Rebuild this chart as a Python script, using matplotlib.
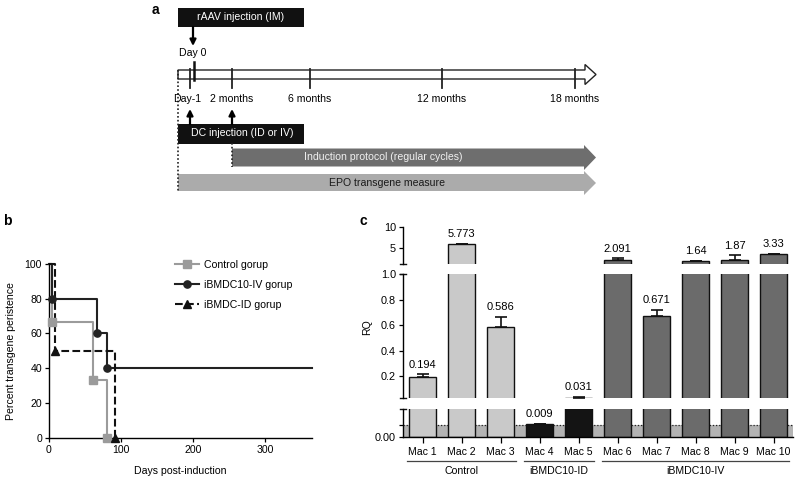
import matplotlib
matplotlib.use("Agg")
import matplotlib.pyplot as plt
from matplotlib.patches import Rectangle, Polygon
from matplotlib.lines import Line2D
import matplotlib.transforms as mtransforms
import numpy as np

plt.rcParams['font.family'] = ['Liberation Sans', 'DejaVu Sans']
plt.rcParams['font.size'] = 7.5

# ---------------- data ----------------
# panel a (schematic texts)
raav_text = "rAAV injection (IM)"
dc_text = "DC injection (ID or IV)"
induction_text = "Induction protocol (regular cycles)"
epo_text = "EPO transgene measure"
day0_label = "Day 0"
timeline_labels = ["Day-1", "2 months", "6 months", "12 months", "18 months"]

# panel b (Kaplan-Meier like steps)
days_control = [0, 4, 61, 81]
pct_control = [100, 66.7, 33.3, 0]
days_iv = [0, 4, 67, 80, 365]
pct_iv = [100, 80, 60, 40, 40]
days_id = [0, 9, 92]
pct_id = [100, 50, 0]
legend_labels = ["Control gorup", "iBMDC10-IV gorup", "iBMDC-ID gorup"]

# panel c (broken-axis bar chart)
mac_labels = ["Mac 1", "Mac 2", "Mac 3", "Mac 4", "Mac 5",
              "Mac 6", "Mac 7", "Mac 8", "Mac 9", "Mac 10"]
rq_values = [0.194, 5.773, 0.586, 0.009, 0.031, 2.091, 0.671, 1.64, 1.87, 3.33]
rq_errors = [0.019, 0.05, 0.08, 0.0, 0.003, 0.25, 0.05, 0.04, 1.2, 0.15]
group_names = ["Control", "iBMDC10-ID", "iBMDC10-IV"]
group_sizes = [3, 2, 5]

# ---------------- figure ----------------
W, H = 800, 480
fig = plt.figure(figsize=(8, 4.8), dpi=100)


def px(x0, y0, x1, y1):
    return [x0 / W, 1 - y1 / H, (x1 - x0) / W, (y1 - y0) / H]


# ---- panel a: schematic on a pixel-coordinate overlay ----
ax_a = fig.add_axes([0, 0, 1, 1])
ax_a.set_xlim(0, W)
ax_a.set_ylim(H, 0)
ax_a.axis('off')
ax_a.set_zorder(-1)

ax_a.add_patch(Rectangle((178, 8), 126, 19, facecolor='#111111', edgecolor='none'))
ax_a.text(241, 17.5, raav_text, color='white', ha='center', va='center', fontsize=7.6)
ax_a.annotate("", xy=(193, 46), xytext=(193, 27),
              arrowprops=dict(arrowstyle='-|>', color='k', lw=1.6, mutation_scale=9,
                              shrinkA=0, shrinkB=0))
ax_a.text(193, 53, day0_label, ha='center', va='center', fontsize=7.6)

# hollow timeline arrow
tl = Polygon([(178, 70), (585, 70), (585, 64.5), (596, 74.5), (585, 84.5), (585, 79), (178, 79)],
             closed=True, facecolor='white', edgecolor='#222222', lw=1.0)
ax_a.add_patch(tl)
tick_x = [190, 232, 310, 442, 575]
for x in tick_x:
    ax_a.plot([x, x], [69, 88], color='#222222', lw=1.3)
ax_a.plot([194, 194], [62, 80], color='#111111', lw=1.8)
for x, lab in zip(tick_x, timeline_labels):
    xx = 187 if lab == "Day-1" else x
    ax_a.text(xx, 99, lab, ha='center', va='center', fontsize=7.6)

# up arrows
for x in (190, 232):
    ax_a.annotate("", xy=(x, 109), xytext=(x, 124),
                  arrowprops=dict(arrowstyle='-|>', color='k', lw=1.6, mutation_scale=9,
                                  shrinkA=0, shrinkB=0))
ax_a.add_patch(Rectangle((178, 123.5), 126, 20, facecolor='#111111', edgecolor='none'))
ax_a.text(242, 133.5, dc_text, color='white', ha='center', va='center', fontsize=7.6)

# dotted guides
ax_a.plot([178, 178], [70, 191], color='#222222', lw=1.2, ls=(0, (1, 1.3)))
ax_a.plot([232, 232], [143, 167], color='#222222', lw=1.2, ls=(0, (1, 1.3)))

# induction arrow
ind = Polygon([(232, 148.5), (584, 148.5), (584, 145), (596, 157.5), (584, 170), (584, 166.5), (232, 166.5)],
              closed=True, facecolor='#6e6e6e', edgecolor='none')
ax_a.add_patch(ind)
ax_a.text(383, 157.5, induction_text, color='#f0f0f0', ha='center', va='center', fontsize=7.6)

# EPO arrow
epo = Polygon([(178, 174), (584, 174), (584, 171), (596, 183), (584, 195), (584, 191), (178, 191)],
              closed=True, facecolor='#ababab', edgecolor='none')
ax_a.add_patch(epo)
ax_a.text(387, 182.5, epo_text, color='#1a1a1a', ha='center', va='center', fontsize=7.6)

# panel letters
fig.text(152 / W, 1 - 10 / H, "a", fontsize=10, fontweight='bold', ha='left', va='center')
fig.text(3 / W, 1 - 221 / H, "b", fontsize=10, fontweight='bold', ha='left', va='center')
fig.text(360 / W, 1 - 221 / H, "c", fontsize=10, fontweight='bold', ha='left', va='center')

# ---- panel b ----
ax_b = fig.add_axes(px(49, 264, 312, 437.7))
series = [
    (days_control, pct_control, '#9b9b9b', 's', '-'),
    (days_iv, pct_iv, '#222222', 'o', '-'),
    (days_id, pct_id, '#111111', '^', '--'),
]
handles = []
for d, p, c, m, ls in series:
    d = np.asarray(d, float)
    p = np.asarray(p, float)
    ax_b.step(d, p, where='post', color=c, lw=1.5, ls=ls, clip_on=False)
    chg = np.r_[False, np.diff(p) != 0]
    ax_b.plot(d[chg], p[chg], ls='none', marker=m, color=c, markersize=5.2, clip_on=False, zorder=5)
    handles.append(Line2D([], [], color=c, ls=ls, lw=1.5, marker=m, markersize=5.2))

ax_b.set_xlim(0, 365)
ax_b.set_ylim(0, 100)
ax_b.set_xticks([0, 100, 200, 300])
ax_b.set_yticks([0, 20, 40, 60, 80, 100])
for s in ('top', 'right'):
    ax_b.spines[s].set_visible(False)
for s in ('left', 'bottom'):
    ax_b.spines[s].set_linewidth(1.0)
ax_b.tick_params(direction='out', length=3, width=0.9, pad=2, labelsize=7.6)
ax_b.set_ylabel("Percent transgene peristence", fontsize=7.6, labelpad=6)
ax_b.set_xlabel("Days post-induction", fontsize=7.6, labelpad=8)
ax_b.legend(handles, legend_labels, loc='upper left', bbox_to_anchor=(175 / W, 1 - 260 / H),
            bbox_transform=fig.transFigure, frameon=False, fontsize=7.6, handlelength=2.3,
            handletextpad=0.4, labelspacing=0.95, borderpad=0, borderaxespad=0)

# ---- panel c ----
x = np.arange(len(mac_labels))
colors = []
for col, n in zip(['#c9c9c9', '#141414', '#6b6b6b'], group_sizes):
    colors += [col] * n
vals = np.asarray(rq_values)
errs = np.asarray(rq_errors)
tops = vals + errs

ax_top = fig.add_axes(px(403, 227, 793, 264))
ax_mid = fig.add_axes(px(403, 274.3, 793, 398.3))
ax_bot = fig.add_axes(px(403, 409, 793, 437.3))
seg = [(ax_top, (1, 10)), (ax_mid, (0.025, 1.0)), (ax_bot, (0, 0.019))]

for ax, lim in seg:
    ax.bar(x, vals, width=0.68, color=colors, edgecolor='#111111', lw=1.0, zorder=2)
    inside = (tops >= lim[0]) & (tops <= lim[1])
    if inside.any():
        ax.errorbar(x[inside], vals[inside], yerr=[np.zeros(inside.sum()), errs[inside]],
                    fmt='none', ecolor='#111111', elinewidth=1.2, capsize=4.5, capthick=1.2,
                    zorder=3)
    ax.set_ylim(*lim)
    ax.set_xlim(-0.5, 9.5)
    ax.patch.set_visible(False)
    for s in ('top', 'right'):
        ax.spines[s].set_visible(False)
    ax.spines['left'].set_linewidth(1.0)
    ax.tick_params(axis='y', direction='out', length=3, width=0.9, pad=2, labelsize=7.8)

for ax in (ax_top, ax_mid):
    ax.spines['bottom'].set_visible(False)
    ax.set_xticks([])

ax_top.set_yticks([5, 10])
ax_top.set_yticklabels(["5", "10"])
ax_mid.set_yticks([0.2, 0.4, 0.6, 0.8, 1.0])
ax_mid.set_yticklabels(["0.2", "0.4", "0.6", "0.8", "1.0"])
ax_bot.set_yticks([0, 0.008])
ax_bot.set_yticklabels(["0.00", ""])
ax_bot.set_xticks(x)
ax_bot.set_xticklabels(mac_labels)
ax_bot.spines['bottom'].set_linewidth(1.0)
ax_bot.tick_params(axis='x', direction='out', length=4, width=0.9, pad=3, labelsize=7.6)

# detection-limit band
ax_bot.axhspan(0, 0.008, color='#b3b3b3', zorder=0, lw=0)
ax_bot.axhline(0.008, color='#222222', lw=0.9, ls=(0, (1, 1.5)), zorder=1)

# break caps on the segmented y-axis
def cap(ax, yfrac):
    ax.add_line(Line2D([-0.008, 0.008], [yfrac, yfrac], transform=ax.transAxes,
                       color='#111111', lw=1.0, clip_on=False))

cap(ax_top, 0)
cap(ax_mid, 0)
cap(ax_mid, 1)
cap(ax_bot, 1)

# value labels
for i, (v, t) in enumerate(zip(vals, tops)):
    if t >= 1:
        ax = ax_top
    elif t >= 0.025:
        ax = ax_mid
    else:
        ax = ax_bot
    ax.annotate(f"{v:g}", (i, t), xytext=(0, 3.5), textcoords='offset points',
                ha='center', va='bottom', fontsize=8, annotation_clip=False)

fig.text(367 / W, 1 - 327 / H, "RQ", rotation=90, ha='center', va='center', fontsize=7.6)

# group underlines and names
trans = mtransforms.blended_transform_factory(ax_bot.transData, fig.transFigure)
start = 0
for name, n in zip(group_names, group_sizes):
    i0, i1 = start, start + n - 1
    ax_bot.add_line(Line2D([i0 - 0.4, i1 + 0.4], [1 - 460.7 / H] * 2, transform=trans,
                           color='#444444', lw=0.9, clip_on=False))
    ax_bot.text((i0 + i1) / 2, 1 - 470.7 / H, name, transform=trans, ha='center',
                va='center', fontsize=7.6)
    start += n

fig.savefig("out.png", dpi=100)
